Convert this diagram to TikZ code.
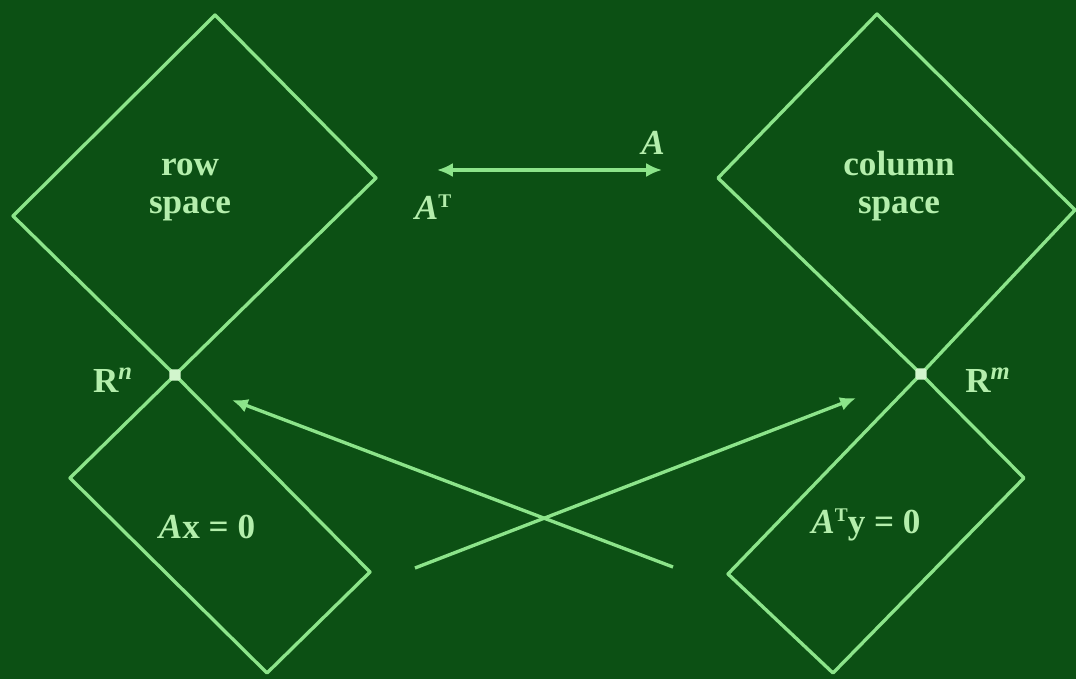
\documentclass[tikz,border=0pt]{standalone}
\usepackage{fontspec}
\setmainfont{Liberation Serif}
\usepackage{xcolor}
\usepackage{tikz}
\usetikzlibrary{arrows.meta}
\definecolor{boardcolor}{HTML}{0C5014}
\definecolor{chalkcolor}{HTML}{8CE48A}
\definecolor{chalktext}{HTML}{B4EEAC}
\newcommand{\transp}{\raisebox{0.75ex}{\fontsize{11}{11}\selectfont T}}

\begin{document}
\begin{tikzpicture}[
    x=0.02cm, y=-0.02cm,
    chalk/.style={draw=chalkcolor, line width=1.9pt, line join=round},
    chalkarrow/.style={chalk, -{Latex[length=9pt,width=8pt]}},
    every node/.style={text=chalktext, inner sep=0pt,
                       align=center,
                       font=\bfseries\fontsize{20}{22}\selectfont},
    spot/.style={rectangle, rounded corners=1.5pt, fill=chalktext!60!white, minimum size=6.5pt}
]
\fill[boardcolor] (0,0) rectangle (1076,679);
\useasboundingbox (0,0) rectangle (1076,679);
\begin{scope}
\clip (0,0) rectangle (1076,679);
\coordinate (rn) at (175,375);
\coordinate (rm) at (921,374);
% four subspaces
\draw[chalk] (215,15) -- (376,178) -- (rn) -- (13,216) -- cycle;
\draw[chalk] (rn) -- (370,572) -- (267,673) -- (70,478) -- cycle;
\draw[chalk] (877,14) -- (1075,210) -- (rm) -- (718,178) -- cycle;
\draw[chalk] (rm) -- (1024,478) -- (833,673) -- (728,574) -- cycle;
\end{scope}
\node[spot] (rndot) at (rn) {};
\node[spot] (rmdot) at (rm) {};

\node (rowlbl) at (190,190) {row\\space};
\node (collbl) at (899,186) {column\\space};
\node (Alabel) at (653,143) {\textit{A}};
\node (ATlabel) at (433,207) {\textit{A}\transp};
\node (Rn) at (113,380) {R\textsuperscript{\textit{n}}};
\node (Rm) at (988,380) {R\textsuperscript{\textit{m}}};
\node (nulllbl) at (207,527) {\textit{A}x = 0};
\node (leftnulllbl) at (866,525) {\textit{A}\transp y = 0};

% maps between the spaces
\coordinate (mapL) at (437,170);
\coordinate (mapR) at (662,170);
\draw[chalk, {Latex[length=9pt,width=8pt]}-{Latex[length=9pt,width=8pt]}] (mapL) -- (mapR);
\coordinate (nullfoot) at (673,567);
\coordinate (rowhit) at (232,400);
\draw[chalkarrow] (nullfoot) -- (rowhit);
\coordinate (leftfoot) at (415,568);
\coordinate (colhit) at (856,398);
\draw[chalkarrow] (leftfoot) -- (colhit);
\end{tikzpicture}
\end{document}
